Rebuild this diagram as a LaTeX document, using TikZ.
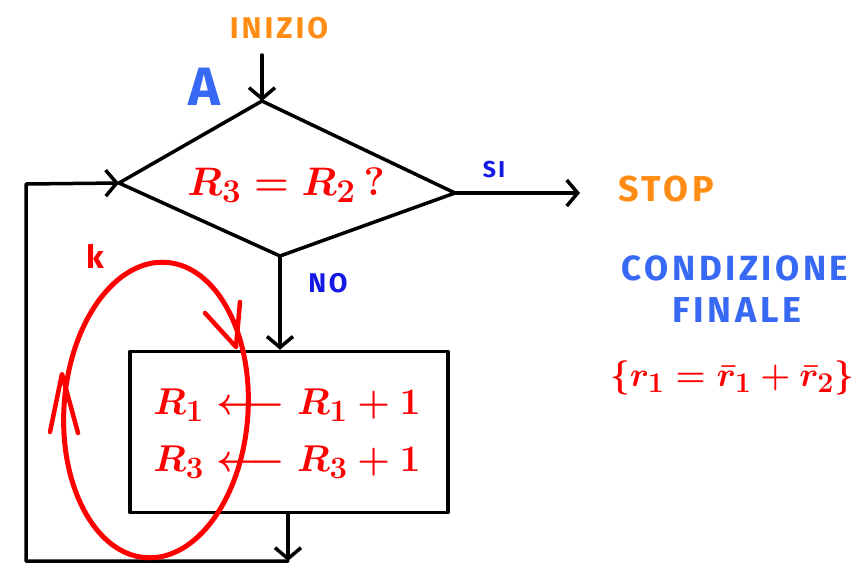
\documentclass[tikz,border=0pt]{standalone}
\usepackage{graphicx}
\usepackage{fontspec}
\usetikzlibrary{arrows.meta}
\newfontfamily\hand{Fira Sans}[LetterSpace=10]
\newfontfamily\handA{Fira Sans}
\definecolor{orng}{RGB}{255,140,20}
\definecolor{blu}{RGB}{55,105,245}
\definecolor{dblu}{RGB}{20,25,230}
\definecolor{rd}{RGB}{255,0,0}
\begin{document}
\begin{tikzpicture}[x=1pt,y=-1pt,line width=3.5pt,line join=round,line cap=round,
  tip/.style={-{Straight Barb[length=11pt,width=26pt,line width=3.5pt]}},
  lbl/.style={inner sep=0pt},
  redtxt/.style={inner sep=0pt,text=rd}]
\useasboundingbox (0,0) rectangle (860,568);
\fill[white] (0,0) rectangle (860,568);
% labels
\node[lbl,text=orng,font=\hand\bfseries\fontsize{30}{32}\selectfont] (inizio) at (279,28) {INIZIO};
\node[lbl,text=blu,font=\handA\bfseries\fontsize{54}{60}\selectfont] (A) at (204,87) {A};
\node[lbl,text=dblu,font=\hand\bfseries\fontsize{23}{24}\selectfont] (si) at (494,170) {SI};
\node[lbl,text=dblu,font=\hand\bfseries\fontsize{27}{28}\selectfont] (no) at (328,283) {NO};
\node[lbl,text=orng,font=\hand\bfseries\fontsize{36}{38}\selectfont] (stop) at (666,189) {STOP};
\node[lbl,text=rd,font=\handA\bfseries\fontsize{32}{34}\selectfont] (k) at (95,256) {k};
\node[lbl,text=blu,font=\hand\bfseries\fontsize{35}{36}\selectfont] (cond) at (735,268) {CONDIZIONE};
\node[lbl,text=blu,font=\hand\bfseries\fontsize{36}{36}\selectfont] (fin) at (737,310) {FINALE};
\node[redtxt] (formula) at (732,378) {\scalebox{1.38}{\Huge\boldmath$\Big\{ r_1 = \bar r_1 + \bar r_2 \Big\}$}};
% diamond
\coordinate (dt) at (262,101);
\coordinate (dl) at (119,183);
\coordinate (db) at (280,256);
\coordinate (dr) at (455,193);
\draw (dt) -- (dr) -- (db) -- (dl) -- cycle;
\node[redtxt] (test) at (286,185) {\scalebox{1.6}{\Huge\boldmath$R_3 = R_2\,?$}};
\coordinate (in) at (262,55);
\draw[tip] (in) -- (dt);
\coordinate (se) at (580,193);
\draw[tip] (dr) -- (se);
% box
\node[draw,minimum width=318pt,minimum height=161pt,inner sep=0pt] (box) at (289,432) {};
\node[redtxt] (assign) at (287,434)
  {\scalebox{1.5}{\Huge\boldmath$\begin{array}{l} R_1 \longleftarrow R_1 + 1\\[8pt] R_3 \longleftarrow R_3 + 1\end{array}$}};
\draw[tip] (db) -- (db |- box.north);
% loop back
\coordinate (lb) at (288,561);
\coordinate (lc) at (26,561);
\coordinate (tc) at (26,184);
\draw[tip] (box.south -| lb) -- (lb);
\draw[tip] (lb) -- (lc) -- (tc) -- (dl);
% red cycle
\coordinate (ec) at (156,410);
\draw[rd,line width=5pt,rotate around={-4:(ec)}] (ec) ellipse [x radius=92, y radius=148];
\draw[rd,line width=4.5pt] (205,313) -- (236,347) -- (240,302);
\draw[rd,line width=4.5pt] (50,432) -- (62,374) -- (78,433);
\end{tikzpicture}
\end{document}
